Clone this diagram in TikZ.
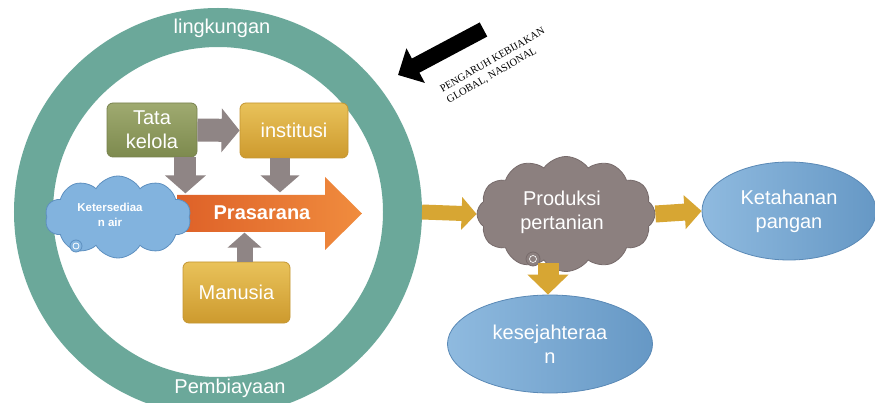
\documentclass[tikz,border=0pt]{standalone}
\usepackage{fontspec}
\setmainfont{Liberation Sans}
\newfontfamily\serifrm{Liberation Serif}
\usetikzlibrary{shapes.symbols,shapes.geometric,arrows.meta}
\definecolor{ringc}{HTML}{6BA89A}
\definecolor{olivetop}{HTML}{9FAA70}
\definecolor{olivebot}{HTML}{7D8A4E}
\definecolor{olivebd}{HTML}{78824E}
\definecolor{goldtop}{HTML}{E9C25A}
\definecolor{goldbot}{HTML}{CD9A2E}
\definecolor{goldbd}{HTML}{C49632}
\definecolor{goldarrc}{HTML}{D7A633}
\definecolor{grayarrc}{HTML}{8F8585}
\definecolor{orL}{HTML}{DE6128}
\definecolor{orR}{HTML}{F08C3E}
\definecolor{cloudblue}{HTML}{82B3DE}
\definecolor{cloudbluebd}{HTML}{5E90C0}
\definecolor{prodc}{HTML}{8C807F}
\definecolor{prodbd}{HTML}{776B6B}
\definecolor{ellL}{HTML}{8FBADF}
\definecolor{ellR}{HTML}{6698C5}
\definecolor{ellbd}{HTML}{5A89B6}
\tikzset{
  ringstyle/.style={circle,draw=ringc,line width=39pt,minimum size=369pt,inner sep=0pt},
  ringlbl/.style={text=white,font=\fontsize{20}{24}\selectfont},
  boxtxt/.style={text=white,align=center,font=\fontsize{20}{24}\selectfont},
  olivebox/.style={boxtxt,rounded corners=6pt,draw=olivebd,line width=0.8pt,top color=olivetop,bottom color=olivebot},
  goldbox/.style={boxtxt,rounded corners=6pt,draw=goldbd,line width=0.8pt,top color=goldtop,bottom color=goldbot},
  bluecloud/.style={cloud,cloud puffs=10,cloud puff arc=120,aspect=1.75,draw=cloudbluebd,line width=0.8pt,fill=cloudblue,inner sep=0pt},
  prodcloud/.style={cloud,cloud puffs=12,cloud puff arc=110,aspect=1.55,draw=prodbd,line width=0.8pt,fill=prodc,boxtxt,inner sep=0pt},
  blueell/.style={ellipse,boxtxt,draw=ellbd,line width=0.8pt,left color=ellL,right color=ellR,inner sep=0pt},
  grayarr/.style={draw=grayarrc,color=grayarrc},
  goldarr/.style={draw=goldarrc,color=goldarrc}
}
\begin{document}
\begin{tikzpicture}[x=1pt,y=-1pt]
\useasboundingbox (0,0) rectangle (875,403);
\fill[white] (0,0) rectangle (875,403);

% ring
\node[ringstyle] (ring) at (218,212) {};
\node[ringlbl] (lk) at (222,28) {lingkungan};
\node[ringlbl] (pb) at (230,388) {Pembiayaan};

% Prasarana arrow
\shade[left color=orL,right color=orR] (177,195) -- (325,195) -- (325,177) -- (362,213.5) -- (325,250) -- (325,232) -- (177,232) -- cycle;
\node[text=white,font=\fontsize{20}{24}\selectfont\bfseries] (pras) at (262,213) {Prasarana};

% boxes
\node[olivebox,minimum width=90pt,minimum height=54pt] (tk) at (152,130) {Tata\\kelola};
\node[goldbox,minimum width=108pt,minimum height=55pt] (inst) at (294,130.5) {institusi};
\node[goldbox,minimum width=107pt,minimum height=61pt] (man) at (236.5,292.5) {Manusia};

% water cloud
\node[bluecloud,minimum width=146pt,minimum height=82pt] (air) at (118,217) {};
\node[text=white,align=center,font=\fontsize{11.5}{14.5}\selectfont\bfseries] (airt) at (110,215) {Ketersediaa\\n air};
\draw[cloudbluebd,fill=cloudblue,line width=0.8pt] (76,246) circle (6);
\draw[white,line width=0.8pt] (76,246) circle (3);

% gray arrows
\draw[grayarr,line width=23pt,-{Triangle[length=18pt,width=43pt]}] (tk.east) -- (inst.west);
\draw[grayarr,line width=22pt,-{Triangle[length=18pt,width=40pt]}] ([xshift=-12pt]tk.south east) -- ++(0,36);
\draw[grayarr,line width=20pt,-{Triangle[length=17pt,width=38pt]}] ([xshift=-14pt]inst.south) -- ++(0,34);
\draw[grayarr,line width=16pt,-{Triangle[length=15pt,width=33pt]}] ([xshift=8pt]man.north) -- ++(0,-29);

% right part
\node[prodcloud,minimum width=178pt,minimum height=115pt] (prod) at (566,214) {};
\node[boxtxt] (prodt) at (562,212) {Produksi\\pertanian};
\draw[prodbd,fill=prodc,line width=0.8pt] (533,259) circle (7);
\draw[white,line width=0.6pt] (533,259) circle (3.5);
\node[blueell,minimum width=174pt,minimum height=98pt] (ket) at (789,211) {Ketahanan\\pangan};
\node[blueell,minimum width=205pt,minimum height=98pt] (kes) at (550,344) {kesejahteraa\\n};

\draw[goldarr,line width=15pt,-{Triangle[length=15pt,width=32pt]}] (ring.east) -- (prod.west);
\draw[goldarr,line width=17pt,-{Triangle[length=17pt,width=33pt]}] (prod.east) -- (ket.west);
\draw[goldarr,line width=21pt,-{Triangle[length=20pt,width=40pt]}] ([xshift=-18pt,yshift=9pt]prod.south) -- ([xshift=-18pt]prod.south |- kes.north);

% policy arrow
\coordinate (bt) at (483.5,29.5);
\coordinate (bh) at (398,75);
\draw[black,line width=16pt,-{Triangle[length=20pt,width=38pt]}] (bt) -- (bh);
\node[rotate=30,align=left,font=\serifrm\fontsize{10.5}{13}\selectfont] (pol) at (496,66) {PENGARUH KEBIJAKAN\\GLOBAL, NASIONAL};
\end{tikzpicture}
\end{document}
